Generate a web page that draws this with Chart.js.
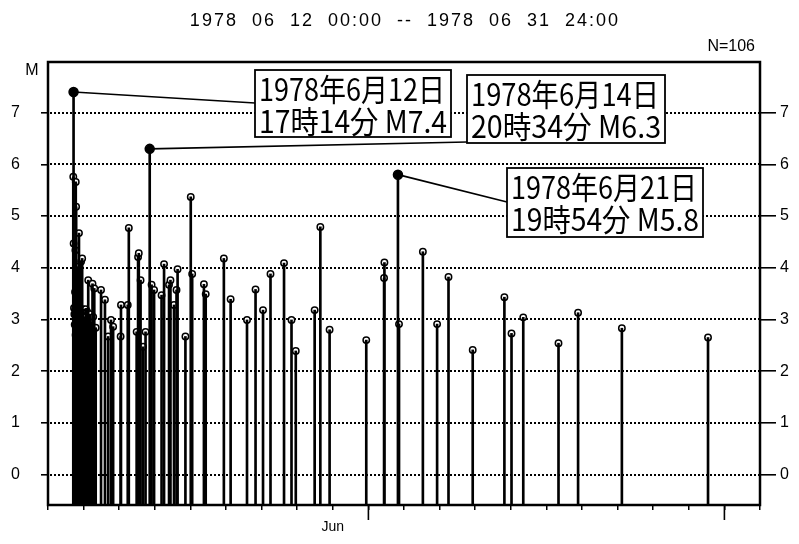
<!DOCTYPE html>
<html>
<head>
<meta charset="utf-8">
<script src="https://cdn.jsdelivr.net/npm/chart.js@4.4.1/dist/chart.umd.min.js"></script>
<style>
html, body { margin: 0; padding: 0; background: #fff; }
canvas { display: block; }
</style>
</head>
<body>
<canvas id="c" width="799" height="544"></canvas>
<script>
// days since 1978-06-12 00:00, and magnitude of each event (N=106)
const dayOffsets = [
    0.71, 0.718, 0.72, 0.73, 0.74, 0.75, 0.76, 0.765, 0.77, 0.775,
    0.78, 0.785, 0.79, 0.80, 0.81, 0.815, 0.82, 0.83, 0.84, 0.85,
    0.86, 0.87, 0.88, 0.89, 0.90, 0.91, 0.92, 0.93, 0.94, 0.95,
    0.96, 0.97, 0.98, 1.00, 1.02, 1.04, 1.06, 1.08, 1.10, 1.12,
    1.13, 1.15, 1.18, 1.21, 1.25, 1.27, 1.30, 1.34, 1.49, 1.60,
    1.69, 1.77, 1.83, 2.04, 2.05, 2.24, 2.27, 2.49, 2.53, 2.55,
    2.60, 2.67, 2.74, 2.857, 2.91, 2.98, 3.19, 3.26, 3.40, 3.44,
    3.54, 3.61, 3.64, 3.86, 4.01, 4.05, 4.38, 4.43, 4.94, 5.13,
    5.59, 5.83, 6.04, 6.25, 6.63, 6.84, 6.96, 7.49, 7.65, 7.91,
    8.94, 9.44, 9.45, 9.83, 9.86, 10.53, 10.93, 11.25, 11.93, 12.82,
    13.02, 13.35, 14.34, 14.89, 16.12, 18.54
];
const magnitudes = [
    5.76, 7.4, 4.47, 3.22, 3.10, 2.90, 3.53, 3.20, 4.34, 2.70,
    5.66, 3.05, 5.18, 3.24, 4.02, 2.80, 3.15, 2.60, 3.20, 2.95,
    3.10, 4.67, 2.75, 3.22, 2.85, 3.00, 3.18, 4.12, 2.65, 3.10,
    4.18, 2.90, 3.20, 2.70, 3.05, 2.80, 3.20, 2.90, 3.15, 3.00,
    3.76, 2.85, 3.10, 2.95, 3.69, 3.05, 3.60, 2.84, 3.57, 3.38,
    2.67, 2.99, 2.86, 2.67, 3.28, 3.28, 4.77, 2.76, 4.21, 4.28,
    3.76, 2.47, 2.76, 6.3, 3.67, 3.57, 3.47, 4.07, 3.67, 3.76,
    3.28, 3.57, 3.97, 2.67, 5.37, 3.88, 3.68, 3.49, 4.18, 3.39,
    2.99, 3.58, 3.18, 3.88, 4.09, 2.99, 2.39, 3.18, 4.79, 2.80,
    2.60, 3.80, 4.10, 5.8, 2.91, 4.31, 2.91, 3.82, 2.41, 3.43,
    2.73, 3.04, 2.54, 3.13, 2.83, 2.65
];
const yTickValues = [0, 1, 2, 3, 4, 5, 6, 7];
const monthLabelDay = 8;
const monthLabel = 'Jun';
const longTickDays = [9, 19];

// the three labelled main shocks
const mainDays = [0.718, 2.857, 9.83];
const mainMags = [7.4, 6.3, 5.8];
const mainDateText = ['1978年6月12日', '1978年6月14日', '1978年6月21日'];
const mainTimeText = ['17時14分 M7.4', '20時34分 M6.3', '19時54分 M5.8'];

const titleText = '1978  06  12  00:00  --  1978  06  31  24:00';
const countText = 'N=106';

const Y_MIN = -0.59, Y_MAX = 7.98;

const points = dayOffsets.map((d, i) => ({ x: d, y: magnitudes[i] }));
const isMain = i => mainDays.includes(dayOffsets[i]);

Chart.defaults.font.family = '"Liberation Sans", Arial, sans-serif';
Chart.defaults.color = '#000';

const boxes = [
    { x: 255, y: 70, w: 196, h: 67, ax: 255, ay: 103 },
    { x: 467, y: 75, w: 198, h: 68, ax: 467, ay: 142 },
    { x: 507, y: 168, w: 196, h: 69, ax: 507, ay: 202 }
];

const decor = {
    id: 'decor',
    beforeDatasetsDraw(chart) {
        const { ctx, chartArea: a, scales: { x, y } } = chart;
        ctx.save();
        // dotted horizontal grid at the magnitude ticks
        ctx.strokeStyle = '#000';
        ctx.lineWidth = 2;
        ctx.setLineDash([2, 2]);
        y.ticks.forEach(t => {
            const py = Math.round(y.getPixelForValue(t.value));
            ctx.beginPath();
            ctx.moveTo(a.left + 2, py);
            ctx.lineTo(a.right, py);
            ctx.stroke();
        });
        ctx.setLineDash([]);
        // leader lines to the labels
        ctx.lineWidth = 1.7;
        mainDays.forEach((d, i) => {
            ctx.beginPath();
            ctx.moveTo(x.getPixelForValue(d), y.getPixelForValue(mainMags[i]));
            ctx.lineTo(boxes[i].ax, boxes[i].ay);
            ctx.stroke();
        });
        ctx.restore();
    },
    afterDraw(chart) {
        const { ctx, chartArea: a, scales: { x } } = chart;
        ctx.save();
        // frame
        ctx.strokeStyle = '#000';
        ctx.lineWidth = 2.5;
        ctx.strokeRect(a.left, a.top, a.right - a.left, a.bottom - a.top);
        // long ticks
        ctx.lineWidth = 1.6;
        longTickDays.forEach(d => {
            const px = x.getPixelForValue(d);
            ctx.beginPath();
            ctx.moveTo(px, a.bottom);
            ctx.lineTo(px, a.bottom + 15);
            ctx.stroke();
        });
        // annotation boxes
        boxes.forEach((b, i) => {
            ctx.fillStyle = '#fff';
            ctx.fillRect(b.x, b.y, b.w, b.h);
            ctx.lineWidth = 1.8;
            ctx.strokeRect(b.x, b.y, b.w, b.h);
            ctx.fillStyle = '#000';
            ctx.font = '31px "Noto Sans CJK JP"';
            ctx.textAlign = 'left';
            ctx.textBaseline = 'middle';
            ctx.fillText(mainDateText[i], b.x + 4, b.y + 19, b.w - 10);
            ctx.fillText(mainTimeText[i], b.x + 4, b.y + 51, b.w - 8);
        });
        // title and labels
        ctx.fillStyle = '#000';
        ctx.textBaseline = 'middle';
        ctx.font = '18px "Liberation Sans"';
        ctx.textAlign = 'center';
        if ('letterSpacing' in ctx) ctx.letterSpacing = '2px';
        ctx.fillText(titleText, 405, 21);
        if ('letterSpacing' in ctx) ctx.letterSpacing = '0px';
        ctx.font = '16px "Liberation Sans"';
        ctx.textAlign = 'right';
        ctx.fillText(countText, 755, 47);
        ctx.font = '16px "Liberation Sans"';
        ctx.textAlign = 'center';
        ctx.fillText('M', 32, 71);
        ctx.restore();
    }
};

const yTicksOnly = scale => { scale.ticks = yTickValues.map(v => ({ value: v })); };

new Chart(document.getElementById('c'), {
    type: 'bar',
    data: {
        datasets: [
            {
                type: 'bar',
                data: points,
                backgroundColor: '#000',
                barThickness: 2,
                base: Y_MIN,
                order: 0
            },
            {
                type: 'scatter',
                data: points,
                pointStyle: 'circle',
                pointRadius: c => isMain(c.dataIndex) ? 4.5 : 3.2,
                pointBorderWidth: 1.5,
                pointBorderColor: '#000',
                pointBackgroundColor: c => isMain(c.dataIndex) ? '#000' : '#fff',
                order: 1
            }
        ]
    },
    options: {
        responsive: false,
        animation: false,
        devicePixelRatio: 1,
        layout: { padding: { top: 62, left: 0, right: 0, bottom: 0 } },
        plugins: { legend: { display: false }, tooltip: { enabled: false } },
        scales: {
            x: {
                type: 'linear',
                min: 0,
                max: 20,
                offset: false,
                afterFit: s => { s.height = 39; },
                grid: { drawOnChartArea: false, color: '#000', lineWidth: 1.5, tickLength: 5, offset: false },
                border: { display: false },
                ticks: {
                    stepSize: 1,
                    autoSkip: false,
                    maxRotation: 0,
                    padding: 9,
                    font: { size: 14 },
                    callback: v => v === monthLabelDay ? monthLabel : ''
                }
            },
            y: {
                position: 'left',
                min: Y_MIN,
                max: Y_MAX,
                afterBuildTicks: yTicksOnly,
                afterFit: s => { s.width = 48; },
                grid: { drawOnChartArea: false, color: '#000', lineWidth: 1.6, tickLength: 7 },
                border: { display: false },
                ticks: { padding: 21, font: { size: 16 } }
            },
            y2: {
                position: 'right',
                min: Y_MIN,
                max: Y_MAX,
                afterBuildTicks: yTicksOnly,
                afterFit: s => { s.width = 39; },
                grid: { drawOnChartArea: false, color: '#000', lineWidth: 1.6, tickLength: 16 },
                border: { display: false },
                ticks: { padding: 4, font: { size: 16 } }
            }
        }
    },
    plugins: [decor]
});
</script>
</body>
</html>
